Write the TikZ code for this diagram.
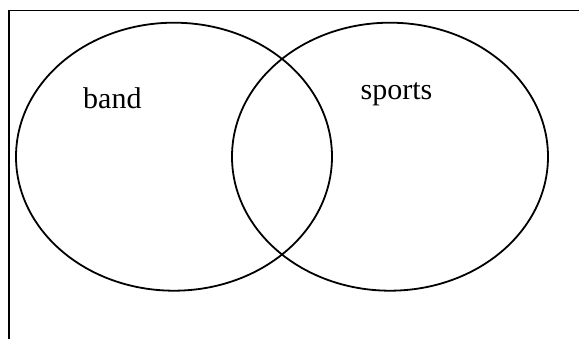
\documentclass[tikz,border=0pt]{standalone}
\usepackage{fontspec}
\setmainfont{Liberation Serif}
\usetikzlibrary{shapes.geometric}
\begin{document}
\begin{tikzpicture}[x=1pt,y=-1pt,
  setellipse/.style={draw=black,line width=1.8pt,ellipse,inner sep=0pt,minimum width=316pt,minimum height=268pt},
  setlabel/.style={anchor=base west,inner sep=0pt,font=\fontsize{30}{36}\selectfont}]
\useasboundingbox (0,0) rectangle (579,339);
\draw[line width=1.8pt] (579,10.5) -- (9,10.5) -- (9,339);
\node[setellipse] (band) at (174,156.7) {};
\node[setellipse] (sports) at (390,156.7) {};
\node[setlabel] (bandlabel) at (83,109) {band};
\node[setlabel] (sportslabel) at (360.5,99.3) {sports};
\end{tikzpicture}
\end{document}
